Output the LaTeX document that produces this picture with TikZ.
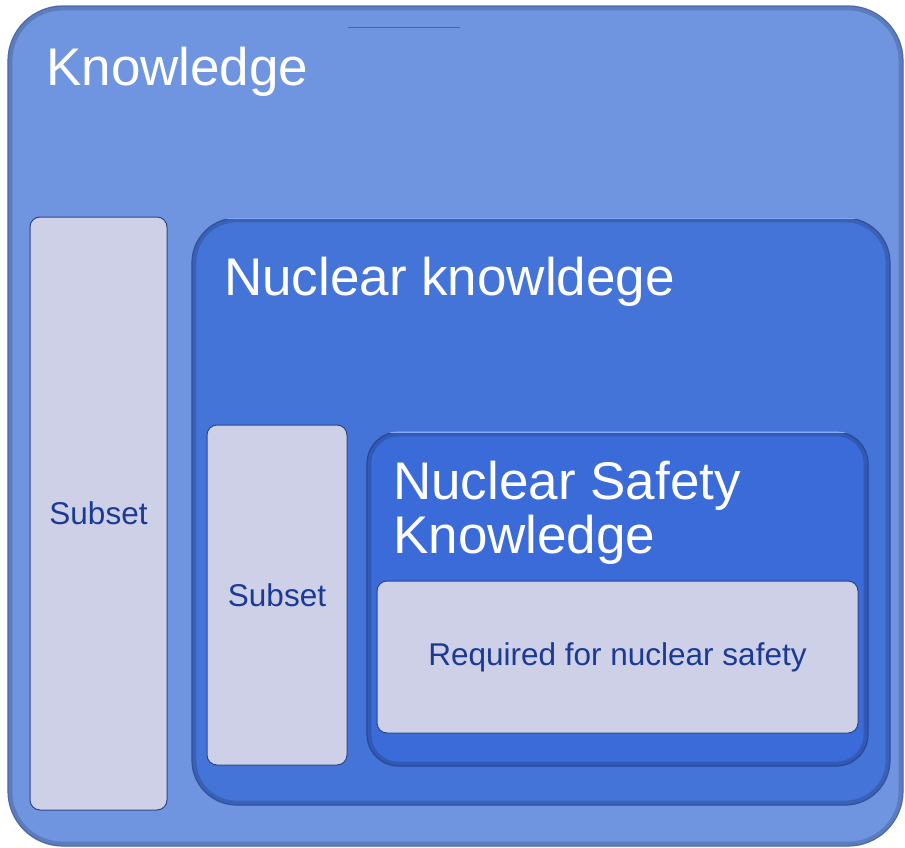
\documentclass[tikz,border=0pt]{standalone}
\usepackage{fontspec}
\setmainfont{Liberation Sans}
\definecolor{outerblue}{HTML}{6F94E0}
\definecolor{outeredge}{HTML}{5A7FCF}
\definecolor{midblue}{HTML}{4574D9}
\definecolor{midedge}{HTML}{3A62BE}
\definecolor{innerblue}{HTML}{3B6BD8}
\definecolor{inneredge}{HTML}{2F58B8}
\definecolor{rimlight}{HTML}{86AAF8}
\definecolor{paleface}{HTML}{CDD0E6}
\definecolor{paleedge}{HTML}{2D4687}
\definecolor{labelblue}{HTML}{1B3A96}
\begin{document}
\begin{tikzpicture}[x=1pt,y=-1pt,
  panel/.style={rounded corners=#1, inner sep=0pt},
  outerpanel/.style={panel=55pt, fill=outerblue, draw=outeredge, line width=1.2pt},
  midpanel/.style={panel=45pt, fill=midblue, draw=midedge, line width=1.2pt},
  innerpanel/.style={panel=32pt, fill=innerblue, draw=inneredge, line width=1.2pt},
  palebox/.style={panel=10pt, fill=paleface, draw=paleedge, line width=1pt,
    text=labelblue, font=\fontsize{31.5}{34}\selectfont, align=center},
  title/.style={text=white, font=\fontsize{53}{54}\selectfont, inner sep=0pt, align=left},
  bevel/.style={draw=black, draw opacity=0.16, line width=10pt}
]
\useasboundingbox (0,0) rectangle (905,848);

% outermost panel with a soft inner rim
\node[outerpanel, minimum width=895pt, minimum height=840pt] (knowledge) at (455.5,426) {};
\begin{scope}
  \clip[rounded corners=55pt] (knowledge.south west) rectangle (knowledge.north east);
  \draw[bevel, rounded corners=55pt] (knowledge.south west) rectangle (knowledge.north east);
  \draw[rimlight, line width=2pt] (knowledge.north west) -- (knowledge.north east);
\end{scope}
\draw[outeredge!80!black, line width=0.8pt] (348,27) -- (460,27);

\node[palebox, minimum width=137pt, minimum height=593pt] (subsetA) at (98.5,513.5) {Subset};

% nuclear knowledge panel
\node[midpanel, minimum width=698pt, minimum height=587pt] (nuclear) at (541,511.5) {};
\begin{scope}
  \clip[rounded corners=45pt] (nuclear.south west) rectangle (nuclear.north east);
  \draw[bevel, rounded corners=45pt] (nuclear.south west) rectangle (nuclear.north east);
  \draw[rimlight, line width=2.5pt] (nuclear.north west) -- (nuclear.north east);
\end{scope}

\node[palebox, minimum width=140pt, minimum height=340pt] (subsetB) at (277,595) {Subset};

% nuclear safety panel
\node[innerpanel, minimum width=501pt, minimum height=334pt] (safety) at (617.5,599) {};
\begin{scope}
  \clip[rounded corners=32pt] (safety.south west) rectangle (safety.north east);
  \draw[bevel, rounded corners=32pt] (safety.south west) rectangle (safety.north east);
  \draw[rimlight, line width=2.5pt] (safety.north west) -- (safety.north east);
\end{scope}

\node[palebox, minimum width=481pt, minimum height=152pt] (required) at (617.5,657) {Required for nuclear safety};

% panel titles
\node[title, anchor=base west] (tKnowledge) at (46,86) {Knowledge};
\node[title, anchor=base west] (tNuclear) at (224,295) {Nuclear knowldege};
\node[title, anchor=base west] (tSafety) at (393,553) {Nuclear Safety\\Knowledge};
\end{tikzpicture}
\end{document}
